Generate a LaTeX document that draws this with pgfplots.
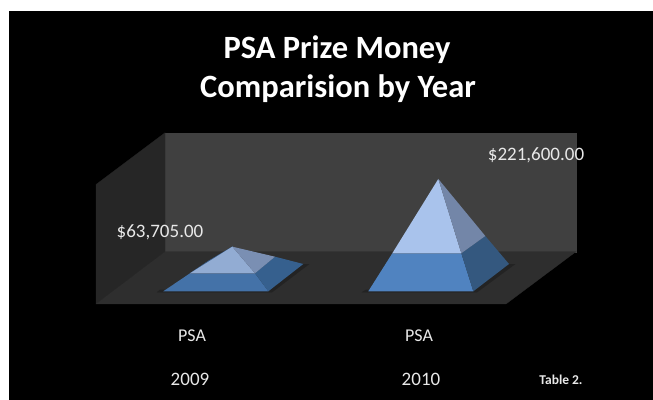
\documentclass[border=0pt]{standalone}
\usepackage{pgfplots}
\usepackage{fontspec}
\setmainfont{Carlito}
\pgfplotsset{compat=1.18}
\definecolor{wallback}{HTML}{404040}
\definecolor{wallside}{HTML}{262626}
\definecolor{floorc}{HTML}{2E2E2E}
\definecolor{shadowc}{HTML}{232323}
\definecolor{sliver}{HTML}{3A5F8C}
\definecolor{labelc}{HTML}{E8E8E8}
\newcommand{\face}[2]{\addplot[fill=#1,draw=#1,line width=0.2pt] coordinates {#2} -- cycle;}
\begin{document}
\begin{tikzpicture}
\begin{axis}[
  scale only axis, width=653pt, height=400pt,
  xmin=0, xmax=653, ymin=-293882, ymax=639078,
  hide axis, clip=true,
]
% page: white margin, black panel
\addplot[fill=white,draw=none] coordinates {(0,-293882)(653,-293882)(653,639078)(0,639078)} -- cycle;
\addplot[fill=black,draw=none] coordinates {(8.5,-293882)(653,-293882)(653,613421)(8.5,613421)} -- cycle;
% chart box: back wall, side wall, floor
\face{wallback}{(165,329568)(576,329568)(576,52013)(165,52013)}
\face{wallside}{(96,208750)(165,329568)(165,52013)(96,-69972)}
\face{floorc}{(96,-69972)(165,52013)(576,52013)(506,-69972)}
% 2009 pyramid: apex at 63705
\face{shadowc}{(157,-42500)(272,-42500)(309,23000)(298,23000)(268,-37000)(160,-37000)}
\face{sliver}{(190,1633)(208,30000)(232.3,63705)(215,20000)}
\addplot[fill={rgb,255:red,68;green,114;blue,168},draw=none] coordinates {(163.3,-40351)(268.3,-40351)(255,1633)(190,1633)} -- cycle;
\addplot[fill={rgb,255:red,54;green,96;blue,142},draw=none] coordinates {(268.3,-40351)(303.3,23324)(275,40351)(255,1633)} -- cycle;
\addplot[fill={rgb,255:red,146;green,172;blue,211},draw=none] coordinates {(190,1633)(255,1633)(232.3,63705)} -- cycle;
\addplot[fill={rgb,255:red,122;green,143;blue,179},draw=none] coordinates {(255,1633)(275,40351)(232.3,63705)} -- cycle;
% 2010 pyramid: apex at 221600
\face{shadowc}{(362,-42500)(477,-42500)(515,23000)(504,23000)(473,-37000)(366,-37000)}
\addplot[fill={rgb,255:red,80;green,131;blue,192},draw=none] coordinates {(368.3,-40351)(473.3,-40351)(461.3,48281)(392.3,48281)} -- cycle;
\addplot[fill={rgb,255:red,52;green,88;blue,127},draw=none] coordinates {(473.3,-40351)(509,23324)(485.3,88631)(461.3,48281)} -- cycle;
\addplot[fill={rgb,255:red,169;green,195;blue,236},draw=none] coordinates {(392.3,48281)(461.3,48281)(438.3,221600)} -- cycle;
\addplot[fill={rgb,255:red,115;green,134;blue,168},draw=none] coordinates {(461.3,48281)(485.3,88631)(438.3,221600)} -- cycle;
% texts
\node[text=white,font=\fontsize{32.5}{38}\selectfont\bfseries] at (axis cs:337,523000) {PSA Prize Money};
\node[text=white,font=\fontsize{32.5}{38}\selectfont\bfseries] at (axis cs:338,433000) {Comparision by Year};
\node[text=labelc,font=\fontsize{19}{22}\selectfont] at (axis cs:160,98000) {\$63,705.00};
\node[text=labelc,font=\fontsize{19}{22}\selectfont] at (axis cs:536,276000) {\$221,600.00};
\node[text=labelc,font=\fontsize{18}{21}\selectfont] at (axis cs:192,-144000) {PSA};
\node[text=labelc,font=\fontsize{18}{21}\selectfont] at (axis cs:419,-144000) {PSA};
\node[text=labelc,font=\fontsize{19}{22}\selectfont] at (axis cs:190,-247000) {2009};
\node[text=labelc,font=\fontsize{19}{22}\selectfont] at (axis cs:421,-247000) {2010};
\node[text=labelc,font=\fontsize{13.5}{16}\selectfont\bfseries] at (axis cs:561,-247000) {Table 2.};
\end{axis}
\end{tikzpicture}
\end{document}
